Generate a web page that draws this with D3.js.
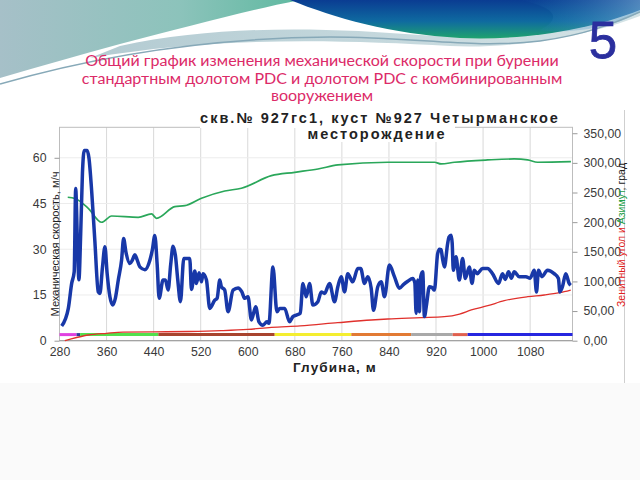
<!DOCTYPE html>
<html><head><meta charset="utf-8">
<script src="https://cdn.jsdelivr.net/npm/d3@7/dist/d3.min.js"></script>
<style>html,body{margin:0;padding:0;background:#fff;} svg{display:block}</style>
</head><body>
<svg id="c" width="640" height="480"></svg>
<script>
// ---------- data ----------
const depthTicks = [280,360,440,520,600,680,760,840,920,1000,1080];
const speedTicks = [0,15,30,45,60];
const angleTicks = [0,50,100,150,200,250,300,350];

const speedDepth = [283.7,295,300.7,305,307.5,310.5,313,316,319,322,327,330,334.6,340,345.9,348.7,353,357.2,361,365.7,370.3,375,380,385.5,389,393,399.6,404,408.1,412,416.6,425.1,433.6,438,442,446,449.4,456,460,464.6,469,473,477,481,485.6,491.3,501.4,504.3,510,512.8,517.2,521.3,524,529.8,535.4,543.9,548,552.4,555.2,560.8,566.5,575,583.5,590,594.8,600.4,606.2,613.4,619,625.8,632.6,636,642.8,649.6,654.2,662.7,671.1,676.8,682.5,689.3,693.7,699.5,705,710.7,719.2,725,730.5,739,747.5,753.1,758.9,764.5,770,778.5,787,792,798.4,804,809.8,813.7,821,826.8,832.4,840.8,849.3,857.8,865,872,880.4,884,886.2,888.9,891.7,894,897.4,900.3,904,908.7,913,917.2,922.8,926,928.6,931,934.2,939.8,942,945.6,947.5,949.4,954,959.6,965.2,969.8,976.6,981.2,985.1,990,999.2,1007.6,1016,1026.3,1033,1037.7,1043.3,1048,1053,1061.4,1072.8,1080,1086.9,1090.8,1094.2,1100,1109.5,1120.8,1128.1,1130.5,1134.9,1140.6,1146.3,1149];
const speed = [4.8,10.6,18.8,22.6,49.9,32,20,35,55,62.4,62.4,60,49.3,33,16,15.5,24,30.8,22,14.4,11.7,14,20,26.4,33.5,29,25.3,26.5,28.2,26.5,24.2,23.3,26.4,30,34.5,25,13.9,19.9,19.9,16.6,25,31,28,20,12.8,27,27,16.8,22.9,18.8,22.3,19.3,22,19.9,10.6,13.3,14,19.9,17.7,16.6,9.5,16.6,17.3,16,13.9,14.4,6.8,11.1,6.2,5.1,6.2,5.7,24.2,9.5,10.6,10.6,6.2,7.9,8.4,9,18.8,14.4,18.8,11.7,12.8,16,15.5,18.8,12.8,17.7,21,16,22,19.3,23.7,23.7,18.8,21,17.2,10,17.7,19.3,14.4,24.8,21,17.2,18.5,19.5,20.4,19,9,19.9,9.5,21,22.6,7.9,12,17.7,17.5,16.6,28.6,30,29.9,27,24.2,31.9,34,34.6,32,23.1,27.5,19.9,27,20.4,24.2,18.8,23.1,22,23.7,23.7,22,18.8,22,20.1,22.6,20.5,22.6,21,21,20.5,23.1,16,23.1,21,23.1,22,20.4,16,17.7,22,18.8,18.2];

const azimuthDepth = [294,306.3,328.9,351.6,368.6,413.8,436.4,444.9,476,493,521.3,560.9,589.2,640.2,679.8,719.4,753.3,838.2,917.4,928.7,951.3,1007.9,1053,1075.7,1092.7,1149.3];
const azimuth = [242,240,223.4,199.8,210.4,208.2,213.8,206.5,226.1,227.8,240.3,252.6,257.2,278.4,284.1,289.7,296.5,301,301,298.2,301,304.9,306.6,305,301,302];

const zenithDepth = [289,300,329,360,388,442,500,555,600,640,689,753,810,838,895,934,960,980,1008,1036,1076,1104,1130,1149];
const zenith = [0,3,9.6,12.5,14.5,15,15.5,16.9,19,22.5,25,30.4,34.9,36.6,38.8,40.5,45,51.8,59,67.5,74.2,77.1,81,85.5];

const bitBounds = [280,309,315,448,645.8,776,877.7,948.3,973.7,1152];
const bitColors = ["#e040e0","#2a3a9a","#52e04c","#a8442e","#f4ee30","#e27a34","#a9a9a9","#e0604e","#2626e0"];
const bitLevel = 2;

const slideTitle = ["Общий график изменения механической скорости при бурении",
                    "стандартным долотом PDC и долотом PDC с комбинированным",
                    "вооружением"];
const chartTitle = ["скв.№ 927гс1, куст №927 Четырманское","месторождение"];
const xTitle = "Глубина, м";
const yLeftTitle = "Механическая скорость, м/ч";
const slideNumber = "5";

// ---------- drawing ----------
const svg = d3.select("#c");
const defs = svg.append("defs");
const AR = "'Liberation Sans', Arial, sans-serif";

function fit(sel, w){
  const n = sel.node().getComputedTextLength();
  const fs = parseFloat(sel.attr("font-size"));
  sel.attr("font-size", (fs*w/n).toFixed(2));
}
function spread(sel, w){
  const n = sel.node().getComputedTextLength();
  const c = sel.text().length;
  sel.attr("letter-spacing", ((w-n)/c).toFixed(2));
}

// slide background below the picture
svg.append("rect").attr("x",0).attr("y",383).attr("width",640).attr("height",97).attr("fill","#fafafa");

// decoration
const g1 = defs.append("linearGradient").attr("id","teal").attr("x1","0").attr("x2","1").attr("y1","0").attr("y2","0");
g1.append("stop").attr("offset","0").attr("stop-color","#a6c0c8");
g1.append("stop").attr("offset","0.6").attr("stop-color","#8cc3bb");
g1.append("stop").attr("offset","1").attr("stop-color","#5fb9a0");
const g2 = defs.append("linearGradient").attr("id","blue").attr("x1","0").attr("x2","0").attr("y1","0").attr("y2","1");
g2.append("stop").attr("offset","0").attr("stop-color","#0a3c92");
g2.append("stop").attr("offset","0.55").attr("stop-color","#0f6aa0");
g2.append("stop").attr("offset","1").attr("stop-color","#1fa36e");
const g3 = defs.append("linearGradient").attr("id","band").attr("x1","0").attr("x2","1").attr("y1","0").attr("y2","0");
g3.append("stop").attr("offset","0").attr("stop-color","#b3cbd2");
g3.append("stop").attr("offset","1").attr("stop-color","#d4e3e6");
const g4 = defs.append("linearGradient").attr("id","lb").attr("x1","0").attr("x2","1").attr("y1","0").attr("y2","0");
g4.append("stop").attr("offset","0").attr("stop-color","#1f78b8").attr("stop-opacity","0");
g4.append("stop").attr("offset","1").attr("stop-color","#7fb4d8");

svg.append("path").attr("d","M0,0 H300 C240,12 190,26 120,44 C80,55 40,66 0,78 Z").attr("fill","url(#teal)");
svg.append("path").attr("d","M120,46 C220,24 330,28 420,35 C500,41 580,27 640,8 V16 C590,35 520,49 450,46 C340,40 220,36 90,58 Z").attr("fill","url(#band)");
svg.append("path").attr("d","M290,0 H640 V10 C590,30 520,41 460,38 C390,34 335,18 290,0 Z").attr("fill","url(#blue)");
svg.append("path").attr("d","M520,0 H640 V12 C610,30 560,34 540,30 C560,20 560,8 520,0 Z").attr("fill","url(#lb)").attr("opacity",0.6);
svg.append("path").attr("d","M0,84 C90,58 200,38 330,37 C420,37 470,49 540,41 C585,35 615,23 640,12")
  .attr("fill","none").attr("stroke","#87a9b8").attr("stroke-width",1.5);

// slide title
const tY = [66, 83.5, 101];
const titleNodes = slideTitle.map((t,i)=> svg.append("text").attr("x",322).attr("y",tY[i]).attr("text-anchor","middle")
    .attr("font-family","Lato, 'Open Sans', sans-serif").attr("font-size",15).attr("fill","#dc2a68").text(t));
fit(titleNodes[0], 474);
titleNodes.slice(1).forEach(s=>s.attr("font-size", titleNodes[0].attr("font-size")));

svg.append("text").attr("x",603).attr("y",58).attr("text-anchor","middle")
  .attr("font-family",AR).attr("font-size",51).attr("fill","#2b2f9e")
  .attr("stroke","#2b2f9e").attr("stroke-width",0.8).text(slideNumber);

// chart area
const L=59.5, R=572.5, T=127.3, B=340.7;
const x = d3.scaleLinear().domain([280,1152]).range([L,R]);
const yL = d3.scaleLinear().domain([0,70]).range([B,T]);
const yR = d3.scaleLinear().domain([0,360]).range([B,T]);

// right image border
svg.append("line").attr("x1",624.5).attr("x2",624.5).attr("y1",110).attr("y2",383).attr("stroke","#cfcfcf");

// grid
svg.append("g").selectAll("line").data(depthTicks.slice(1)).join("line")
  .attr("x1",d=>x(d)).attr("x2",d=>x(d)).attr("y1",T).attr("y2",B).attr("stroke","#d9d9d9");
svg.append("g").selectAll("line").data(speedTicks.slice(1)).join("line")
  .attr("x1",L).attr("x2",R).attr("y1",d=>yL(d)).attr("y2",d=>yL(d)).attr("stroke","#ececec");

// frame
svg.append("rect").attr("x",L).attr("y",T).attr("width",R-L).attr("height",B-T)
  .attr("fill","none").attr("stroke","#bdbdbd");
svg.append("line").attr("x1",L).attr("x2",R).attr("y1",B).attr("y2",B).attr("stroke","#9a9a9a");

// axes
const axB = svg.append("g").attr("transform",`translate(0,${B})`)
  .call(d3.axisBottom(x).tickValues(depthTicks).tickSize(0).tickPadding(6.5).tickFormat(d3.format("d")));
const axL = svg.append("g").attr("transform",`translate(${L},0)`)
  .call(d3.axisLeft(yL).tickValues(speedTicks).tickSize(5).tickPadding(8).tickFormat(d3.format("d")));
const axR = svg.append("g").attr("transform",`translate(${R},0)`)
  .call(d3.axisRight(yR).tickValues(angleTicks).tickSize(5).tickPadding(6).tickFormat(d=>d3.format(".2f")(d).replace(".",",")));
[axB,axL,axR].forEach(a=>{
  a.select(".domain").remove();
  a.selectAll("line").attr("stroke","#9a9a9a");
  a.selectAll("text").attr("font-family",AR).attr("font-size",12.3).attr("fill","#3a3a3a");
});

// lines
const lineGen = (xs, ys, ysc) => d3.line().x((d,i)=>x(xs[i])).y((d,i)=>ysc(ys[i])).curve(d3.curveMonotoneX)(xs);

// bit segments
svg.append("g").selectAll("line").data(bitColors).join("line")
  .attr("x1",(d,i)=>x(bitBounds[i])).attr("x2",(d,i)=>x(bitBounds[i+1]))
  .attr("y1",yL(bitLevel)).attr("y2",yL(bitLevel))
  .attr("stroke",d=>d).attr("stroke-width",3);

svg.append("path").attr("d",lineGen(zenithDepth,zenith,yR)).attr("fill","none").attr("stroke","#e0302c").attr("stroke-width",1.3);
svg.append("path").attr("d",lineGen(azimuthDepth,azimuth,yR)).attr("fill","none").attr("stroke","#2aa75a").attr("stroke-width",1.7);
svg.append("path").attr("d",lineGen(speedDepth,speed,yL)).attr("fill","none").attr("stroke","#1838a8").attr("stroke-width",3.5).attr("stroke-linejoin","round");

// chart title with white backing
svg.append("rect").attr("x",200).attr("y",106).attr("width",255).attr("height",22).attr("fill","#fff");
svg.append("rect").attr("x",300).attr("y",127).attr("width",155).attr("height",15).attr("fill","#fff");
const ct1 = svg.append("text").attr("x",380).attr("y",123).attr("text-anchor","middle")
  .attr("font-family",AR).attr("font-weight","bold").attr("font-size",14.5).attr("fill","#222").text(chartTitle[0]);
spread(ct1, 360);
const ct2 = svg.append("text").attr("x",377).attr("y",138.5).attr("text-anchor","middle")
  .attr("font-family",AR).attr("font-weight","bold").attr("font-size",14.5).attr("fill","#222").text(chartTitle[1]);
spread(ct2, 139);

// axis titles
const xt = svg.append("text").attr("x",335).attr("y",371.5).attr("text-anchor","middle")
  .attr("font-family",AR).attr("font-weight","bold").attr("font-size",13.5).attr("fill","#222").text(xTitle);
spread(xt, 84);
const lt = svg.append("text").attr("transform","translate(55,244) rotate(-90)").attr("text-anchor","middle")
  .attr("dominant-baseline","central").attr("font-family",AR).attr("font-size",12.5).attr("fill","#222").text(yLeftTitle);
fit(lt, 145);
const rt = svg.append("text").attr("transform","translate(621,235) rotate(-90)").attr("text-anchor","middle")
  .attr("dominant-baseline","central").attr("font-family",AR).attr("font-size",12.5);
rt.append("tspan").attr("fill","#e02020").text("Зенитный угол и ");
rt.append("tspan").attr("fill","#22a048").text("Азимут");
rt.append("tspan").attr("fill","#222").text(", град");
fit(rt, 144);
</script>
</body></html>
